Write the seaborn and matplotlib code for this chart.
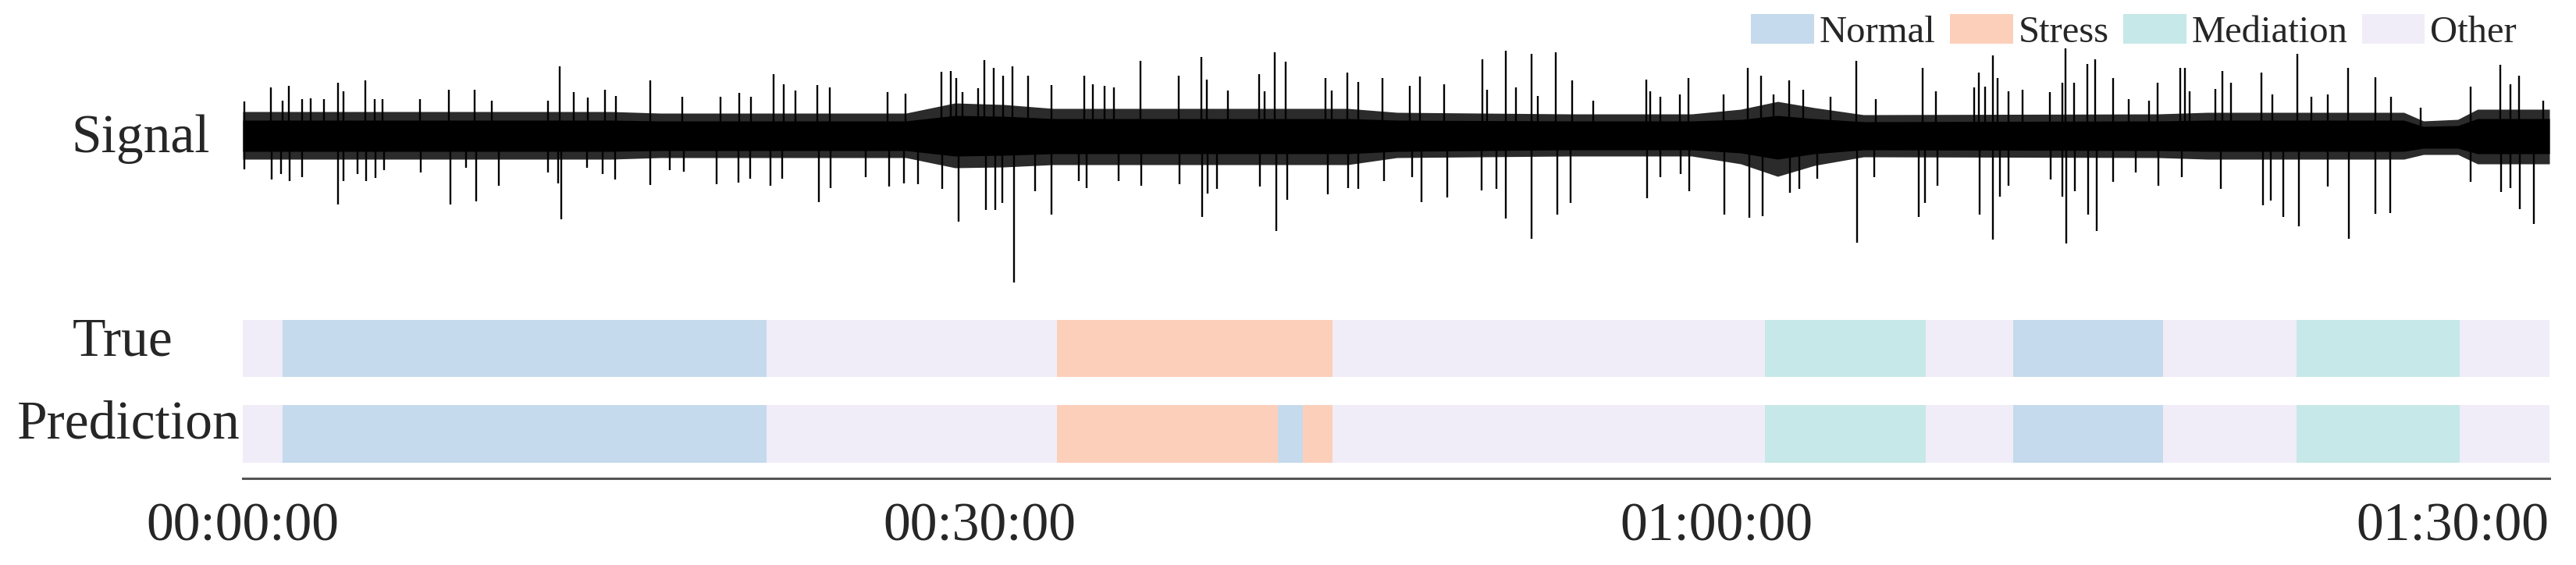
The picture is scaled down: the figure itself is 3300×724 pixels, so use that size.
import numpy as np
import matplotlib
matplotlib.use("Agg")
import matplotlib.pyplot as plt
from matplotlib.patches import Patch
import seaborn as sns

# ---- data (time in minutes) ----
classes = ["Normal", "Stress", "Mediation", "Other"]
class_colors = ["#C5DAEC", "#FCCFBA", "#C6E8E8", "#F0EDF8"]

true_labels = ["Other", "Normal", "Other", "Stress", "Other", "Mediation",
               "Other", "Normal", "Other", "Mediation", "Other"]
true_start = [0, 1.62, 21.33, 33.15, 44.39, 61.98, 68.54, 72.09, 78.19, 83.64, 90.28]
true_end = [1.62, 21.33, 33.15, 44.39, 61.98, 68.54, 72.09, 78.19, 83.64, 90.28, 93.93]

pred_labels = ["Other", "Normal", "Other", "Stress", "Normal", "Stress", "Other",
               "Mediation", "Other", "Normal", "Other", "Mediation", "Other"]
pred_start = [0, 1.62, 21.33, 33.15, 42.15, 43.17, 44.39, 61.98, 68.54, 72.09, 78.19, 83.64, 90.28]
pred_end = [1.62, 21.33, 33.15, 42.15, 43.17, 44.39, 61.98, 68.54, 72.09, 78.19, 83.64, 90.28, 93.93]

# envelope of the dense part of the signal: solid core and ragged outer edge
env_t = [0, 15, 17, 27, 29, 31, 33, 45, 47, 54, 59, 61, 62.5, 64, 66,
         78, 80, 88, 88.8, 90.2, 91, 93.93]
core_hi = [2.0, 2.0, 1.9, 1.9, 2.6, 2.5, 2.2, 2.2, 2.0, 1.9, 1.9, 2.1, 2.6, 2.2, 1.8,
           1.9, 2.0, 2.0, 1.2, 1.3, 2.2, 2.2]
core_lo = [-2.0, -2.0, -1.9, -1.9, -2.6, -2.5, -2.3, -2.3, -2.0, -1.8, -1.8, -2.2, -3.0, -2.3, -1.8,
           -1.9, -2.0, -2.0, -1.6, -1.6, -2.3, -2.3]
env_hi = [3.1, 3.1, 2.9, 2.9, 4.2, 4.0, 3.5, 3.5, 3.0, 2.8, 2.8, 3.4, 4.4, 3.6, 2.7,
          2.8, 3.0, 3.0, 1.9, 2.1, 3.4, 3.4]
env_lo = [-3.0, -3.0, -2.8, -2.8, -4.1, -4.0, -3.7, -3.7, -2.8, -2.6, -2.6, -3.6, -5.2, -3.8, -2.7,
          -2.8, -3.0, -3.0, -2.4, -2.4, -3.6, -3.6]

# spikes sticking out of the band
up_t = [0.07, 1.13, 1.61, 1.88, 2.41, 2.78, 3.31, 3.87, 4.10, 5.00, 5.37, 5.69, 7.23, 8.40, 9.45,
        10.14, 12.44, 12.92, 13.48, 14.06, 14.75, 15.20,
        16.58, 17.90, 19.46, 20.21, 20.68, 21.60, 22.04, 22.51, 23.38, 23.89, 26.27, 26.99, 28.45,
        28.82, 29.05, 29.30, 29.93, 30.20, 30.59,
        30.95, 31.33, 31.97, 32.92, 34.28, 34.62, 35.09, 35.46, 36.55, 38.11, 39.02, 39.25, 40.12,
        41.40, 41.61, 42.01, 42.48, 44.08, 44.33, 44.98, 45.42, 46.41,
        47.51, 47.94, 48.92, 50.48, 50.67, 51.43, 51.85, 52.48, 52.75, 53.47, 54.14, 54.98, 57.16,
        57.31, 57.73, 58.51, 58.86, 60.31, 61.29, 61.83,
        62.32, 62.98, 63.54, 64.65, 65.71, 66.51, 68.42, 68.94, 70.51, 70.69, 70.94, 71.28, 71.47,
        71.89, 72.47, 73.59, 74.09, 74.22, 74.58, 75.12, 75.44, 76.15, 76.81, 77.61,
        77.97, 78.88, 79.09, 79.28, 80.33, 80.62, 80.97, 82.19, 82.63, 83.67, 84.23, 84.89, 85.74,
        86.83, 87.49, 88.67, 90.72, 91.94, 92.34, 92.68, 93.68]
up_v = [4.4, 6.2, 4.5, 6.4, 4.7, 4.8, 4.7, 6.8, 5.7, 7.1, 4.7, 4.7, 4.7, 5.9, 5.9,
        4.5, 4.5, 8.9, 5.6, 4.9, 5.9, 5.1,
        7.1, 5.0, 5.0, 5.5, 5.0, 7.9, 6.6, 5.8, 6.5, 6.2, 5.6, 5.4, 8.2,
        8.3, 7.4, 5.6, 6.1, 9.7, 8.7,
        7.7, 8.9, 7.7, 6.5, 7.7, 6.6, 6.4, 6.2, 9.6, 7.7, 10.1, 7.2, 5.8,
        7.9, 5.7, 10.7, 9.5, 7.4, 5.8, 8.1, 6.9, 7.4,
        6.4, 7.6, 6.6, 9.8, 5.9, 10.9, 6.2, 10.5, 5.1, 10.7, 7.1, 4.5, 7.2,
        5.7, 5.0, 5.3, 7.4, 5.3, 8.7, 7.7,
        5.3, 7.1, 5.9, 5.0, 9.6, 4.7, 8.7, 5.7, 6.2, 8.1, 6.3, 10.3, 7.4,
        5.7, 5.9, 5.6, 6.8, 11.2, 6.8, 9.2, 9.8, 7.4, 4.7, 4.5,
        6.8, 8.7, 8.7, 5.7, 6.0, 8.3, 6.8, 8.1, 5.3, 10.5, 5.0, 5.3, 8.7,
        7.5, 5.0, 3.6, 6.3, 9.1, 6.6, 7.7, 4.5]

down_t = [0.07, 1.19, 1.56, 1.90, 2.43, 3.87, 4.10, 4.68, 5.03, 5.40, 5.74, 7.26, 8.44, 9.08, 9.50,
          10.44, 12.42, 12.84, 12.98, 14.01, 14.64, 15.17,
          16.58, 17.40, 17.95, 19.30, 20.17, 20.66, 21.50, 21.96, 23.45, 23.94, 25.38, 26.33, 26.93,
          27.48, 28.49, 29.14, 30.25, 30.64,
          30.92, 31.40, 32.25, 32.92, 34.03, 34.35, 35.67, 36.58, 38.16, 39.06, 39.28, 39.68, 41.42,
          42.09, 42.53, 44.17, 45.00, 45.42, 46.46,
          47.63, 47.99, 49.05, 50.43, 51.04, 51.44, 52.48, 53.53, 54.06, 57.18, 57.73, 58.54, 58.90,
          60.34, 61.35, 61.90,
          62.99, 63.38, 64.12, 65.74, 66.45, 68.24, 68.49, 69.00, 70.73, 71.28, 71.55, 71.89, 73.61,
          74.09, 74.25, 74.61, 75.14, 75.48, 76.15, 77.09,
          78.01, 78.96, 80.55, 82.25, 82.57, 83.09, 83.73, 84.89, 85.77, 86.85, 87.43, 90.72, 91.96,
          92.34, 92.72, 93.31]
down_v = [-4.3, -5.6, -4.9, -5.8, -5.3, -8.8, -5.8, -4.9, -5.8, -5.4, -4.4, -4.7, -8.8, -4.1, -8.4,
          -6.4, -4.7, -6.1, -10.7, -4.1, -4.9, -5.6,
          -6.3, -4.4, -4.6, -6.2, -6.0, -5.5, -6.4, -5.5, -8.5, -6.7, -5.3, -6.5, -6.1,
          -6.2, -6.8, -11.0, -9.5, -9.5,
          -8.6, -18.8, -7.1, -10.1, -5.8, -6.7, -5.8, -6.4, -6.2, -10.4, -7.4, -6.8, -6.5,
          -12.2, -8.2, -7.5, -6.7, -6.8, -5.8,
          -5.3, -8.5, -7.9, -7.0, -6.8, -10.6, -13.2, -10.1, -8.6, -8.0, -5.3, -4.9, -7.1,
          -10.1, -10.5, -10.3,
          -7.3, -6.8, -5.5, -13.7, -5.3, -10.4, -8.6, -6.4, -10.1, -13.3, -7.8, -6.4, -5.6,
          -7.8, -13.8, -7.1, -10.1, -12.2, -5.9, -4.7,
          -6.4, -5.3, -6.8, -8.9, -8.3, -10.4, -11.6, -6.5, -13.2, -10.0, -9.9, -5.9, -7.2,
          -6.7, -9.4, -11.3]

tick_pos = [0, 30, 60, 90]
tick_labels = ["00:00:00", "00:30:00", "01:00:00", "01:30:00"]
t_end = 93.93

# ---- style ----
sns.set_theme(style="white")
plt.rcParams["font.family"] = ["Liberation Serif", "DejaVu Serif"]

W, H = 3300, 724
fig = plt.figure(figsize=(W / 100, H / 100), dpi=100)
x0, x1 = 311, 3266
ax_sig = fig.add_axes([x0 / W, 1 - 395 / H, (x1 - x0) / W, 395 / H])
ax_bar = fig.add_axes([x0 / W, 111 / H, (x1 - x0) / W, 218 / H])

# signal panel: ragged edge in dark grey, solid core in black, then the spikes
ax_sig.fill_between(env_t, env_lo, env_hi, color="#2b2b2b", lw=0)
ax_sig.fill_between(env_t, core_lo, core_hi, color="black", lw=0)
ax_sig.vlines(up_t, 0, up_v, color="black", lw=1.7)
ax_sig.vlines(down_t, 0, down_v, color="black", lw=1.7)
ax_sig.set_xlim(0, t_end)
ax_sig.set_ylim(-22.1, 17.4)
ax_sig.axis("off")

# label bars
color_of = dict(zip(classes, class_colors))
rows = [(0, true_labels, true_start, true_end), (1, pred_labels, pred_start, pred_end)]
for y, labs, st, en in rows:
    widths = np.array(en) - np.array(st)
    ax_bar.barh([y] * len(labs), widths, left=st, height=0.67,
                color=[color_of[l] for l in labs], linewidth=0)

ax_bar.set_xlim(0, t_end)
ax_bar.set_ylim(1.52, -0.47)
ax_bar.set_yticks([])
ax_bar.set_xticks(tick_pos)
ax_bar.set_xticklabels(tick_labels, fontsize=50)
ax_bar.tick_params(axis="x", direction="in", length=20, width=1, color="#555555", pad=22)
sns.despine(ax=ax_bar, left=True, top=True, right=True)
ax_bar.spines["bottom"].set_color("#555555")
ax_bar.spines["bottom"].set_linewidth(2.2)

# row names
fig.text(180 / W, 1 - 195 / H, "Signal", ha="center", va="baseline", fontsize=50)
fig.text(157 / W, 1 - 455 / H, "True", ha="center", va="baseline", fontsize=50)
fig.text(165 / W, 1 - 562 / H, "Prediction", ha="center", va="baseline", fontsize=50)

# legend
handles = [Patch(facecolor=c, edgecolor="none") for c in class_colors]
fig.legend(handles, classes, loc="upper left", bbox_to_anchor=(2243 / W, 1 - 18 / H),
           ncol=4, frameon=False, fontsize=35, handlelength=1.66, handleheight=0.82,
           handletextpad=0.14, columnspacing=0.38, borderpad=0, borderaxespad=0)

fig.savefig("out.png", dpi=100)
plt.close(fig)
